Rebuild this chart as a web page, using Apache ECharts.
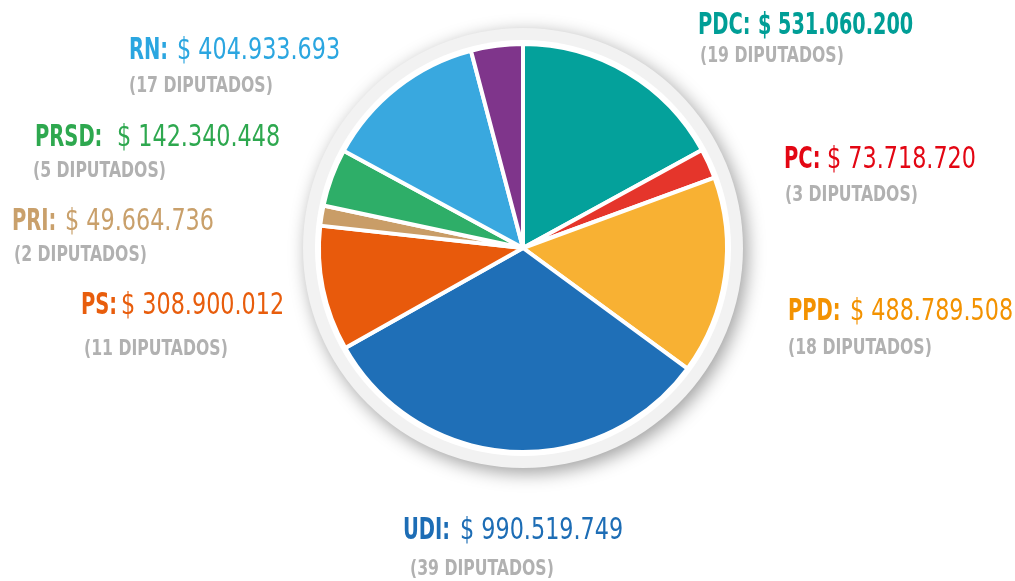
<!DOCTYPE html>
<html>
<head>
<meta charset="utf-8">
<script src="https://cdn.jsdelivr.net/npm/echarts@6/dist/echarts.min.js"></script>
<style>
  html, body { margin: 0; padding: 0; background: #fff; }
  #chart { width: 1015px; height: 581px; }
</style>
</head>
<body>
<div id="chart"></div>
<script>
// partidos y montos (en pesos), en orden de las agujas del reloj desde arriba
const parties = ['PDC', 'PC', 'PPD', 'UDI', 'PS', 'PRI', 'PRSD', 'RN', 'OTROS'];
const amounts = [531060200, 73718720, 488789508, 990519749, 308900012, 49664736, 142340448, 404933693, 128000000];
const amountText = ['531.060.200', '73.718.720', '488.789.508', '990.519.749', '308.900.012', '49.664.736', '142.340.448', '404.933.693', ''];
const deputies = [19, 3, 18, 39, 11, 2, 5, 17, null];

const sliceColors = ['#04a19b', '#e5352b', '#f8b133', '#1f6fb7', '#e85a0c', '#c99d67', '#2eae68', '#39a8df', '#7f358b'];
const labelColors = ['#009e96', '#e30613', '#f39200', '#1d6db5', '#e85d0c', '#c9a06b', '#2ea84f', '#2ba6e0', '#7f358b'];

// posicion de las etiquetas: x del nombre, x del monto, centro de la 1a y 2a linea, x de la 2a
const nameX = [698, 784, 788, 403, 81, 12, 35, 129];
const valueX = [758, 827, 850, 460, 121, 65, 117, 177];
const mainY = [26, 160, 312, 531, 306, 222, 138, 51];
const subY = [57, 196, 349, 570, 350, 256, 172, 87];
const subX = [700, 785, 788, 410, 84, 14, 33, 129];

const FONT = '"DejaVu Sans Condensed", "Liberation Sans", sans-serif';
const C = [523, 248];

let chart = echarts.init(document.getElementById('chart'));

let pieData = parties.map((p, i) => ({
    name: p,
    value: amounts[i],
    itemStyle: { color: sliceColors[i] }
}));

// etiquetas: texto escalado en x para parecerse a la fuente condensada original
function txt(x, y, sx, text, font, color) {
    return {
        type: 'text', x: x, y: y, scaleX: sx, silent: true,
        style: { text: text, font: font, fill: color, verticalAlign: 'middle', align: 'left' }
    };
}
let labels = [];
parties.forEach((p, i) => {
    if (deputies[i] == null) return;
    const bold = p === 'PDC';
    labels.push(txt(nameX[i], mainY[i], 0.7, p + ':', 'bold 31px ' + FONT, labelColors[i]));
    labels.push(txt(valueX[i], mainY[i], bold ? 0.69 : 0.8, '$ ' + amountText[i],
        (bold ? 'bold ' : '') + '31px ' + FONT, labelColors[i]));
    labels.push(txt(subX[i], subY[i], 0.83, '(' + deputies[i] + ' DIPUTADOS)', 'bold 21px ' + FONT, '#b1b1b1'));
});

let option = {
    backgroundColor: '#ffffff',
    animation: false,
    graphic: { elements: labels },
    series: [
        {
            type: 'pie',
            silent: true,
            center: C,
            radius: 220,
            label: { show: false },
            labelLine: { show: false },
            itemStyle: {
                color: '#f2f2f2',
                shadowBlur: 18,
                shadowColor: 'rgba(0,0,0,0.38)',
                shadowOffsetX: 4,
                shadowOffsetY: 5
            },
            data: [{ value: 1 }]
        },
        {
            type: 'pie',
            silent: true,
            center: C,
            radius: 208,
            label: { show: false },
            labelLine: { show: false },
            itemStyle: { color: '#ffffff' },
            data: [{ value: 1 }]
        },
        {
            type: 'pie',
            center: C,
            radius: 204,
            startAngle: 90,
            clockwise: true,
            itemStyle: { borderColor: '#ffffff', borderWidth: 4 },
            label: { show: false },
            labelLine: { show: false },
            emphasis: { disabled: true },
            data: pieData
        }
    ]
};
chart.setOption(option);
window.onresize = chart.resize;
</script>
</body>
</html>
